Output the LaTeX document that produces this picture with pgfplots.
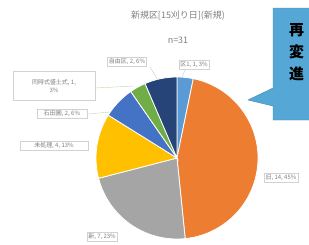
\documentclass[border=0pt]{standalone}
\usepackage{pgfplots}
\pgfplotsset{compat=1.18}
\usepackage{pgfplotstable}
\usepackage{fontspec}
\setmainfont{Noto Sans CJK JP}
\definecolor{s0}{HTML}{5B9BD5}
\definecolor{s1}{HTML}{ED7D31}
\definecolor{s2}{HTML}{A5A5A5}
\definecolor{s3}{HTML}{FFC000}
\definecolor{s4}{HTML}{4472C4}
\definecolor{s5}{HTML}{70AD47}
\definecolor{s6}{HTML}{264478}
\definecolor{txt}{HTML}{7F7F7F}
\definecolor{callout}{HTML}{55A8D6}
\pgfplotstableread{
value
1
14
7
4
2
1
2
}\piedata
\begin{document}
\begin{tikzpicture}
\clip (0,0) rectangle (309bp,245bp);
\begin{axis}[at={(0,0)},anchor=south west,scale only axis,
  width=309bp,height=245bp,xmin=0,xmax=309,ymin=0,ymax=245,
  y dir=reverse,hide axis,clip=false]
\pgfplotsextra{
  \pgfmathsetmacro{\tot}{31}
  \xdef\cum{0}
  \foreach \i in {0,...,6}{
    \pgfplotstablegetelem{\i}{value}\of\piedata
    \pgfmathsetmacro{\sa}{90-360*\cum/\tot}
    \pgfmathsetmacro{\ea}{90-360*(\cum+\pgfplotsretval)/\tot}
    \fill[s\i,draw=white,line width=0.8pt] (axis cs:177,158) -- ++(\sa:81bp) arc[start angle=\sa,end angle=\ea,radius=81bp] -- cycle;
    \pgfmathsetmacro{\nc}{\cum+\pgfplotsretval}
    \xdef\cum{\nc}
  }
  % leader lines
  \draw[gray!50,line width=0.3pt] (axis cs:185,70) -- (axis cs:182,78);
  \draw[gray!50,line width=0.3pt] (axis cs:150,67) -- (axis cs:158,80);
  \draw[s5!60,line width=0.3pt] (axis cs:95,88) -- (axis cs:134,86);
  \draw[s5!60,line width=0.3pt] (axis cs:88,114) -- (axis cs:110,112);
  % callout
  \fill[callout,draw=callout!80!black,line width=0.4pt] (axis cs:273,8) -- (axis cs:320,8) -- (axis cs:320,120) -- (axis cs:273,120) -- (axis cs:273,106) -- (axis cs:248,100) -- (axis cs:273,88) -- cycle;
  \node[font=\fontsize{15}{15}\selectfont\bfseries,anchor=west,inner sep=0pt] at (axis cs:289,30) {再};
  \node[font=\fontsize{15}{15}\selectfont\bfseries,anchor=west,inner sep=0pt] at (axis cs:289,52) {変};
  \node[font=\fontsize{15}{15}\selectfont\bfseries,anchor=west,inner sep=0pt] at (axis cs:289,74) {進};
  % title
  \node[text=txt,font=\fontsize{9}{9}\selectfont] at (axis cs:178,16) {新規区[15刈り日](新規)};
  \node[text=txt,font=\fontsize{9}{9}\selectfont] at (axis cs:178,40) {n=31};
  % labels
  \tikzset{lab/.style={draw=gray!35,fill=white,text=txt,font=\fontsize{6}{7.5}\selectfont,inner sep=1.5pt,align=center}}
  \node[lab] at (axis cs:194,65) {区1, 1, 3\%};
  \node[lab] at (axis cs:127,62) {自由区, 2, 6\%};
  \node[lab,minimum width=82bp,minimum height=29bp] at (axis cs:54,86) {同時式盛土式, 1,\\3\%};
  \node[lab,minimum width=50bp] at (axis cs:62,114) {石田圃, 2, 6\%};
  \node[lab,minimum width=68bp] at (axis cs:54,146) {未処理, 4, 13\%};
  \node[lab] at (axis cs:281,178) {旧, 14, 45\%};
  \node[lab] at (axis cs:102,237) {新, 7, 23\%};
}
\end{axis}
\end{tikzpicture}
\end{document}
